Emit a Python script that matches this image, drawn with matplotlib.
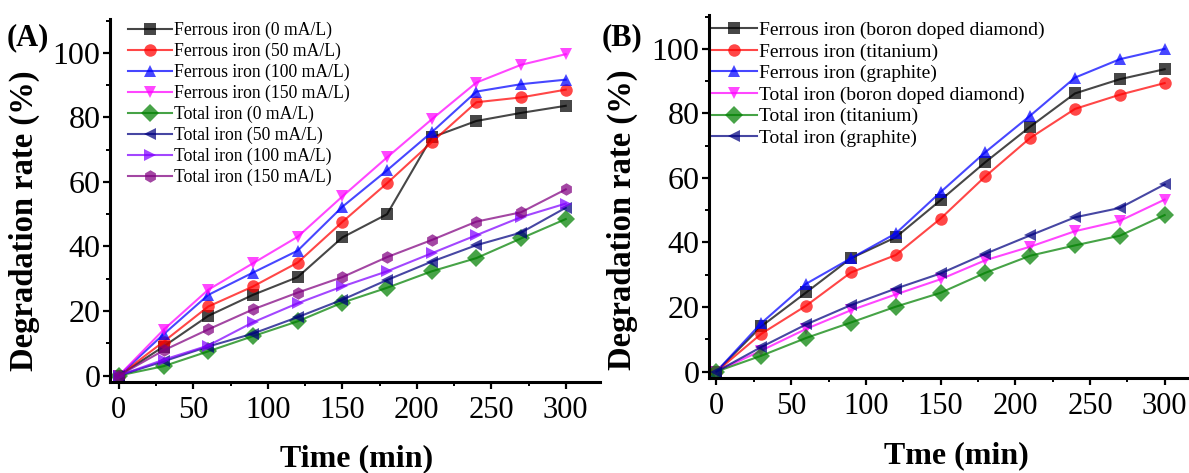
import numpy as np
import matplotlib
matplotlib.use("Agg")
import matplotlib.pyplot as plt
from matplotlib.ticker import MultipleLocator

plt.rcParams['font.family'] = ['Liberation Serif', 'DejaVu Serif']

# sampling times (min)
time = [0, 30, 60, 90, 120, 150, 180, 210, 240, 270, 300]

# panel A: current density series
ferrous_0 = [0, 9, 18.5, 25, 30.5, 42.8, 50, 73.8, 78.9, 81.4, 83.6]
ferrous_50 = [0, 10.5, 21.4, 27.6, 35, 47.6, 59.6, 72.3, 84.7, 86.2, 88.6]
ferrous_100 = [0, 12.8, 25, 31.9, 38.7, 52.3, 63.6, 75.4, 88, 90.3, 91.7]
ferrous_150 = [0, 14.2, 26.6, 34.8, 43, 55.5, 67.6, 79.4, 90.8, 96.3, 99.6]
total_0 = [0, 2.9, 7.5, 12.2, 16.8, 22.6, 27.2, 32.3, 36.4, 42.5, 48.5]
total_50 = [0, 4.4, 9, 13, 18.1, 23.5, 29.6, 35.3, 40.4, 44.3, 52]
total_100 = [0, 4.9, 9.3, 16.5, 22.4, 27.6, 32.3, 37.9, 43.5, 49.1, 53.3]
total_150 = [0, 7.8, 14.3, 20.5, 25.7, 30.5, 36.7, 42, 47.7, 50.6, 57.7]

labels_a = ['Ferrous iron (0 mA/L)', 'Ferrous iron (50 mA/L)',
            'Ferrous iron (100 mA/L)', 'Ferrous iron (150 mA/L)',
            'Total iron (0 mA/L)', 'Total iron (50 mA/L)',
            'Total iron (100 mA/L)', 'Total iron (150 mA/L)']

# panel B: electrode material series
ferrous_bdd = [0, 14, 24.5, 35.1, 41.6, 53.1, 64.9, 75.9, 86.2, 90.6, 93.7]
ferrous_ti = [0, 11.7, 20.4, 30.7, 36.1, 47.4, 60.5, 72.4, 81.4, 85.8, 89.4]
ferrous_gr = [0, 15, 27.2, 35.1, 42.8, 55.6, 68, 79.3, 91.1, 96.8, 100]
total_bdd = [0, 6.5, 13.2, 19, 23.9, 28.6, 34.5, 38.7, 43.5, 46.7, 53.3]
total_ti = [0, 4.9, 10.4, 15.2, 20.1, 24.4, 30.6, 35.9, 39.1, 42.1, 48.5]
total_gr = [0, 7.6, 14.6, 20.6, 25.7, 30.4, 36.5, 42.2, 47.8, 50.7, 58]

labels_b = ['Ferrous iron (boron doped diamond)', 'Ferrous iron (titanium)',
            'Ferrous iron (graphite)', 'Total iron (boron doped diamond)',
            'Total iron (titanium)', 'Total iron (graphite)']

# colours / markers (Origin defaults)
colors_a = ['#000000', '#ff0000', '#0000ff', '#ff00ff',
            '#008000', '#000080', '#8000ff', '#800080']
markers_a = ['s', 'o', '^', 'v', 'D', '<', '>', 'h']
colors_b = ['#000000', '#ff0000', '#0000ff', '#ff00ff', '#008000', '#000080']
markers_b = ['s', 'o', '^', 'v', 'D', '<']

fig = plt.figure(figsize=(11.89, 4.73), dpi=100)
W, H = 1189.0, 473.0

# axes rectangles from pixel positions (left, right, top, bottom)
axA = fig.add_axes([110 / W, 1 - 382 / H, (600 - 110) / W, (382 - 19) / H])
axB = fig.add_axes([709 / W, 1 - 378 / H, (1202 - 709) / W, (378 - 15) / H])


def style_axis(ax):
    for s in ['top', 'right']:
        ax.spines[s].set_visible(False)
    for s in ['left', 'bottom']:
        ax.spines[s].set_linewidth(2.2)
    ax.xaxis.set_major_locator(MultipleLocator(50))
    ax.xaxis.set_minor_locator(MultipleLocator(25))
    ax.yaxis.set_major_locator(MultipleLocator(20))
    ax.yaxis.set_minor_locator(MultipleLocator(10))
    ax.tick_params(which='major', direction='out', length=5, width=1.6)
    ax.tick_params(which='minor', direction='out', length=3, width=1.4)
    ax.tick_params(axis='y', labelsize=23, pad=2)
    ax.tick_params(axis='x', labelsize=22, pad=5)


series_a = [ferrous_0, ferrous_50, ferrous_100, ferrous_150,
            total_0, total_50, total_100, total_150]
for vals, c, m, lab in zip(series_a, colors_a, markers_a, labels_a):
    axA.plot(time, vals, color=c, marker=m, lw=1.5, ms=9, alpha=0.72,
             markeredgewidth=0, label=lab)
style_axis(axA)
axA.set_xlim(-6, 323)
axA.set_ylim(-2, 110.5)
axA.set_xticks([0, 50, 100, 150, 200, 250, 300])
axA.set_yticks([0, 20, 40, 60, 80, 100])
axA.legend(loc='upper left', bbox_to_anchor=(0.036, 0.992), frameon=False,
           fontsize=12.7, handlelength=2.5, handletextpad=0.1,
           labelspacing=0.21, borderpad=0, borderaxespad=0)

series_b = [ferrous_bdd, ferrous_ti, ferrous_gr, total_bdd, total_ti, total_gr]
for vals, c, m, lab in zip(series_b, colors_b, markers_b, labels_b):
    axB.plot(time, vals, color=c, marker=m, lw=1.5, ms=9, alpha=0.72,
             markeredgewidth=0, label=lab)
style_axis(axB)
axB.set_xlim(-5, 325)
axB.set_ylim(-2, 110.5)
axB.set_xticks([0, 50, 100, 150, 200, 250, 300])
axB.set_yticks([0, 20, 40, 60, 80, 100])
axB.legend(loc='upper left', bbox_to_anchor=(0.006, 0.982), frameon=False,
           fontsize=14, handlelength=2.3, handletextpad=0.1,
           labelspacing=0.2, borderpad=0, borderaxespad=0)

# labels
fig.text(24 / W, 1 - 221 / H, 'Degradation rate (%)', rotation=90,
         ha='center', va='center', fontsize=23.5, fontweight='bold')
fig.text(622 / W, 1 - 220 / H, 'Degradation rate (%)', rotation=90,
         ha='center', va='center', fontsize=23.5, fontweight='bold')
fig.text(357 / W, 1 - 459 / H, 'Time (min)', ha='center', va='center',
         fontsize=23, fontweight='bold')
fig.text(956 / W, 1 - 456 / H, 'Tme (min)', ha='center', va='center',
         fontsize=23, fontweight='bold')
fig.text(28 / W, 1 - 38 / H, '(A)', ha='center', va='center',
         fontsize=22, fontweight='bold')
fig.text(622 / W, 1 - 38 / H, '(B)', ha='center', va='center',
         fontsize=22, fontweight='bold')

fig.savefig('out.png', dpi=100)
